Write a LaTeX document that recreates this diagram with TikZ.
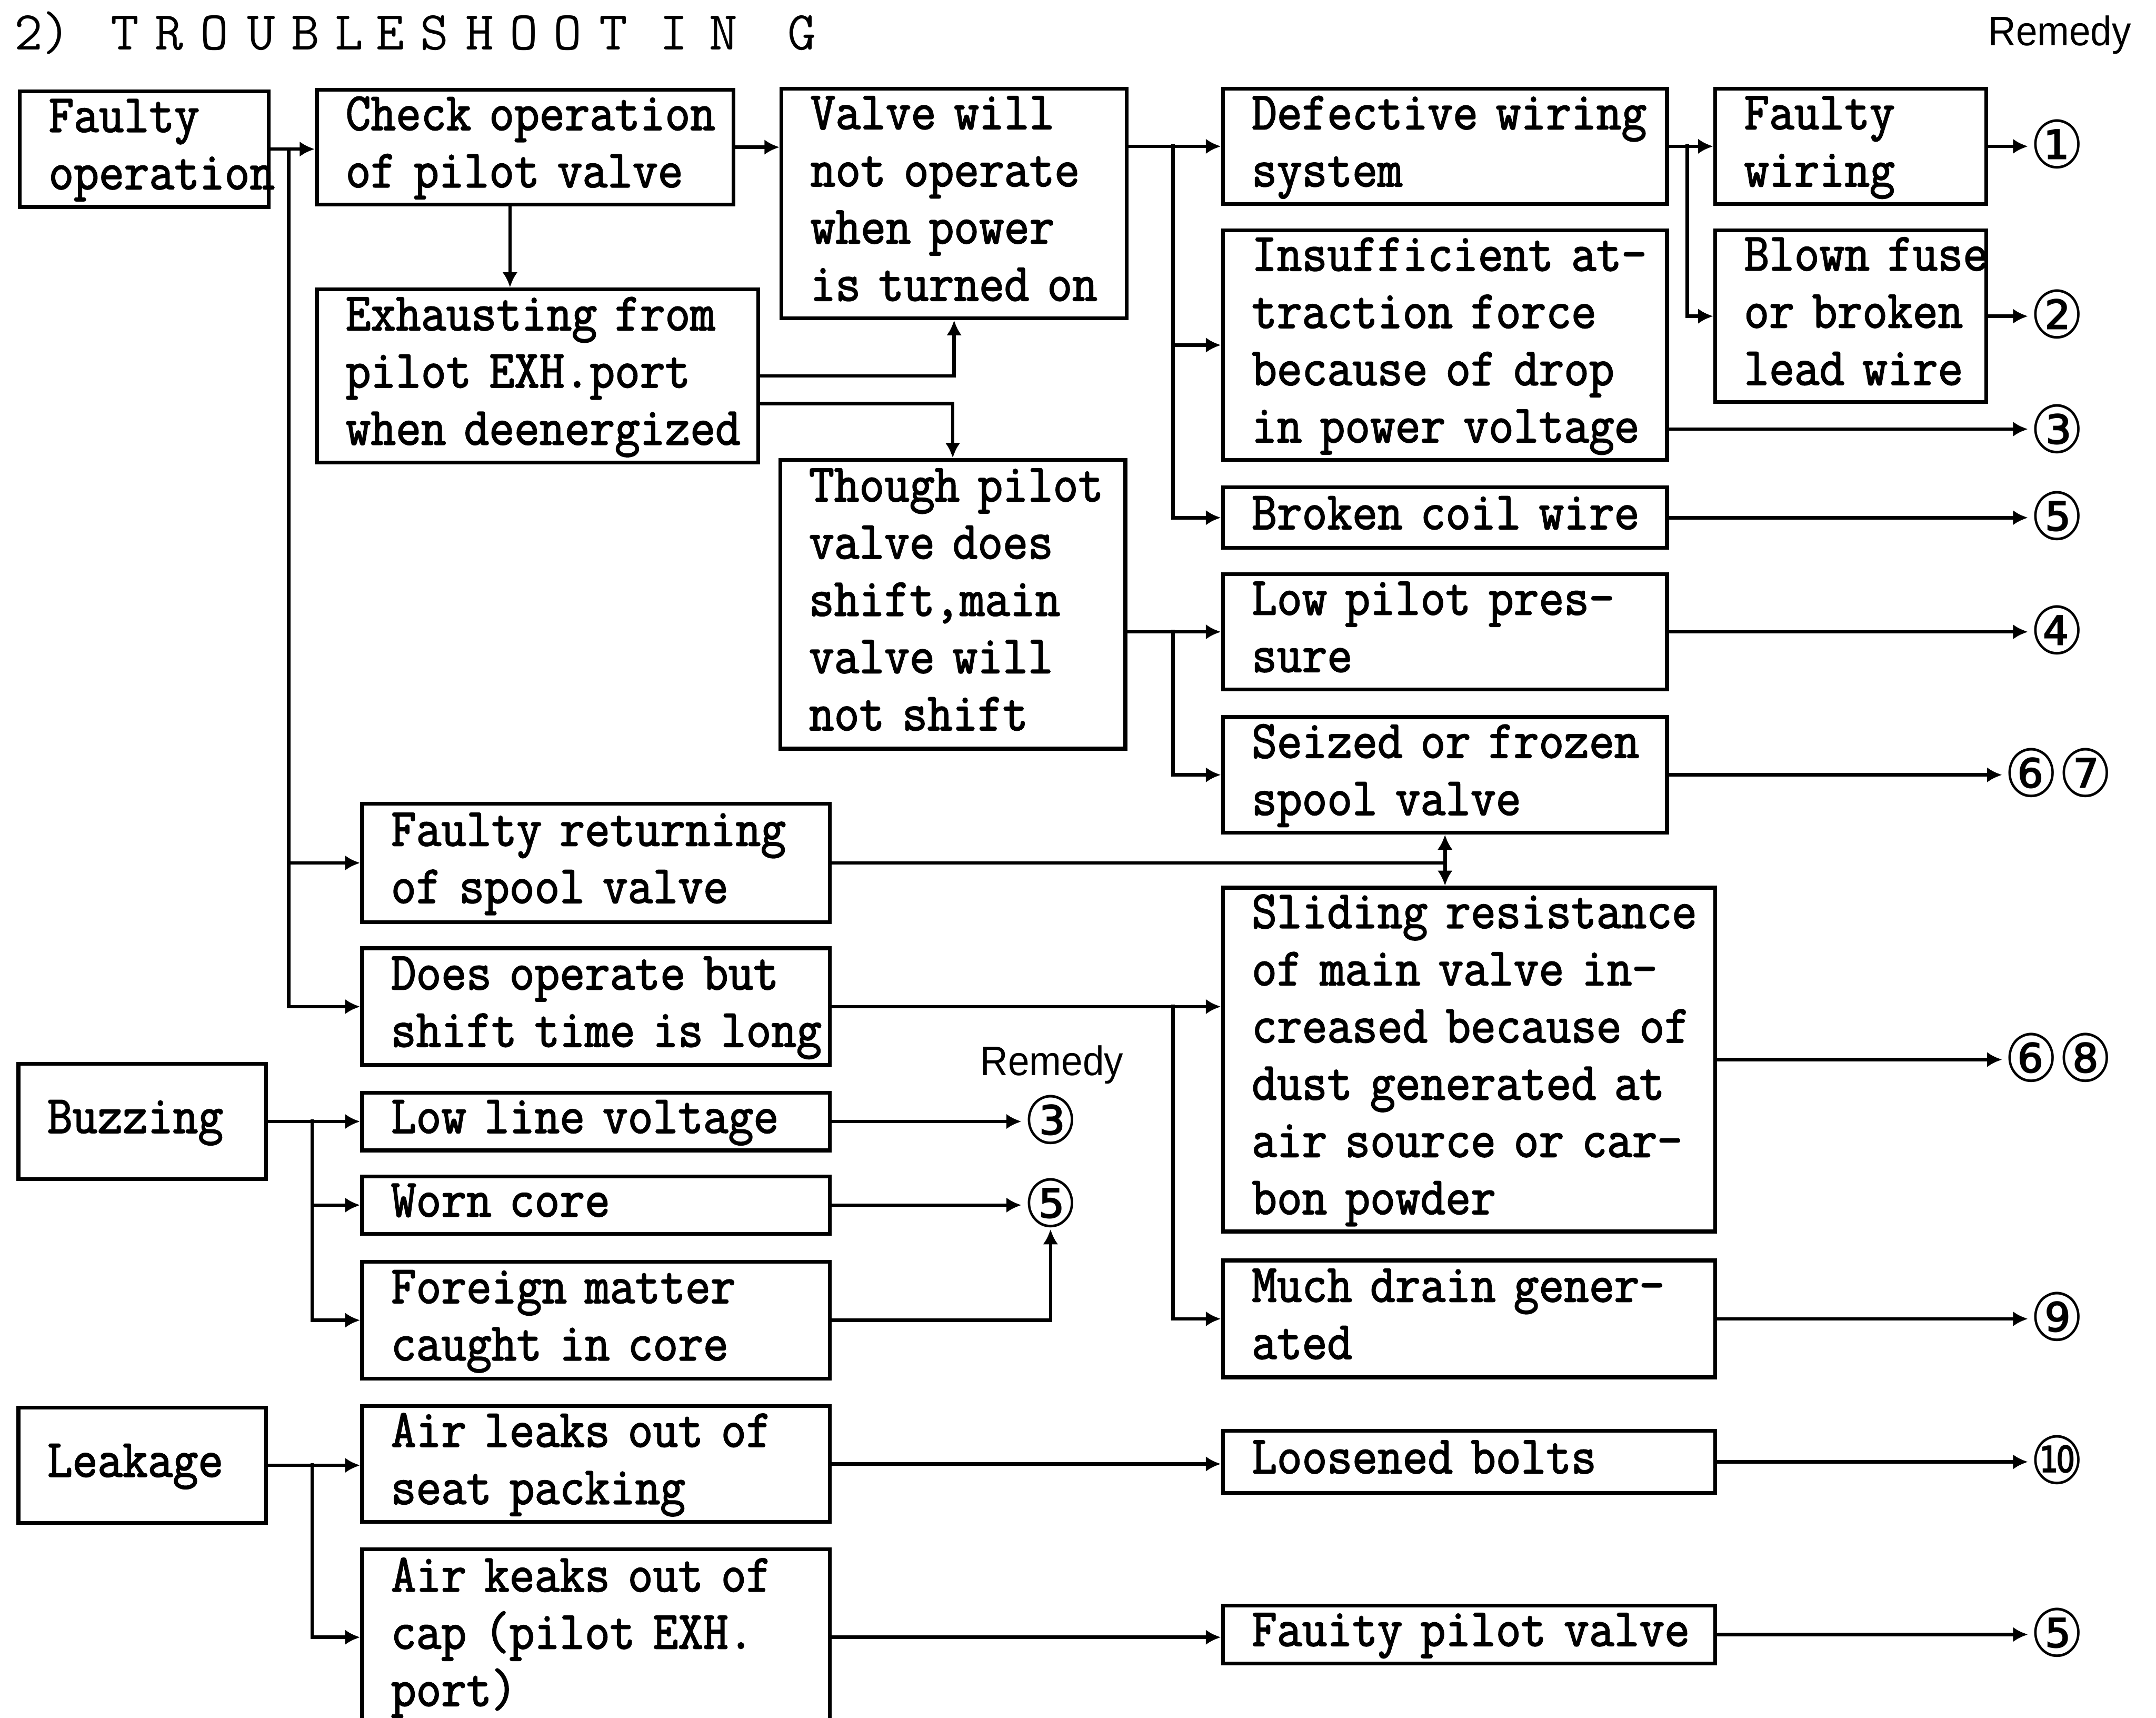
\documentclass[tikz,border=0pt]{standalone}
\usepackage{fontspec}
\usetikzlibrary{arrows.meta}
\newfontfamily\boxfont[FakeStretch=0.91,FakeBold=2]{Latin Modern Mono}
\newfontfamily\remfont[FakeStretch=0.93]{Liberation Sans}
\newfontfamily\circfont[FakeStretch=0.92]{DejaVu Sans}
\newcommand{\boxtext}[1]{\begin{tabular}{@{}l@{}}#1\end{tabular}}

\begin{document}
\begin{tikzpicture}[x=1pt,y=-1pt,line width=2.5pt,>={Latex[length=11pt,width=11pt]},
  cause/.style 2 args={draw,line width=2.8pt,anchor=north west,text width=#1,minimum height=#2,
    inner xsep=21pt,inner ysep=0pt,font=\boxfont\fontsize{39}{41.6}\selectfont},
  remedy/.style={inner sep=0pt,font=\circfont\fontsize{48}{48}\selectfont},
  ttl/.style={anchor=base,inner sep=0pt,font=\ttfamily\fontsize{40}{40}\selectfont},
  remlabel/.style={anchor=base,inner sep=0pt,font=\remfont\fontsize{30}{30}\selectfont}]
\useasboundingbox (0,0) rectangle (1568,1249);
%%%%%%%%%%%%%%%%%%%% heading %%%%%%%%%%%%%%%%%%%%
\node[ttl] (ttl0) at (31,36) {2)};
\foreach \ch/\xx [count=\i] in {T/91,R/123,O/156,U/190,B/222,L/254,E/284,S/316,H/349,O/381,O/413,T/446,I/490,N/526,G/583}
  \node[ttl] (ttl\i) at (\xx,36) {\ch};
\node[remlabel] (remtop) at (1498,33) {Remedy};
\node[remlabel] (remmid) at (765,782) {Remedy};
%%%%%%%%%%%%%%%%%%%% faulty operation %%%%%%%%%%%%%%%%%%%%
\node[cause={139pt}{84pt}] (fo) at (13,65) {\boxtext{Faulty\\operation}};
\node[cause={261pt}{83pt}] (chk) at (229,64) {\boxtext{Check operation\\of pilot valve}};
\node[cause={209pt}{167pt}] (vlv) at (567,63) {\boxtext{Valve will\\not operate\\when power\\is turned on}};
\node[cause={279pt}{126pt}] (exh) at (229,209) {\boxtext{Exhausting from\\pilot EXH.port\\when deenergized}};
\node[cause={209pt}{210pt}] (tho) at (566,333) {\boxtext{Though pilot\\valve does\\shift,main\\valve will\\not shift}};
\node[cause={298pt}{86pt}] (frt) at (262,583) {\boxtext{Faulty returning\\of spool valve}};
\node[cause={298pt}{85pt}] (doe) at (262,688) {\boxtext{Does operate but\\shift time is long}};
\node[cause={281pt}{84pt}] (def) at (888,63) {\boxtext{Defective wiring\\system}};
\node[cause={281pt}{167pt}] (ins) at (888,166) {\boxtext{Insufficient at-\\traction force\\because of drop\\in power voltage}};
\node[cause={281pt}{44pt}] (brk) at (888,353) {\boxtext{Broken coil wire}};
\node[cause={281pt}{84pt}] (lpp) at (888,416) {\boxtext{Low pilot pres-\\sure}};
\node[cause={281pt}{84pt}] (szd) at (888,520) {\boxtext{Seized or frozen\\spool valve}};
\node[cause={316pt}{250pt}] (sld) at (888,644) {\boxtext{Sliding resistance\\of main valve in-\\creased because of\\dust generated at\\air source or car-\\bon powder}};
\node[cause={316pt}{85pt}] (mdr) at (888,915) {\boxtext{Much drain gener-\\ated}};
\node[cause={155pt}{84pt}] (fwr) at (1246,63) {\boxtext{Faulty\\wiring}};
\node[cause={155pt}{125pt}] (bfs) at (1246,166) {\boxtext{Blown fuse\\or broken\\lead wire}};
%%%%%%%%%%%%%%%%%%%% buzzing %%%%%%%%%%%%%%%%%%%%
\node[cause={138pt}{84pt}] (buz) at (12,772) {\boxtext{Buzzing}};
\node[cause={298pt}{42pt}] (llv) at (262,793) {\boxtext{Low line voltage}};
\node[cause={298pt}{41pt}] (wrn) at (262,854) {\boxtext{Worn core}};
\node[cause={298pt}{85pt}] (frn) at (262,916) {\boxtext{Foreign matter\\caught in core}};
%%%%%%%%%%%%%%%%%%%% leakage %%%%%%%%%%%%%%%%%%%%
\node[cause={138pt}{84pt}] (lkg) at (12,1022) {\boxtext{Leakage}};
\node[cause={298pt}{84pt}] (alk) at (262,1021) {\boxtext{Air leaks out of\\seat packing}};
\node[cause={298pt}{128pt}] (akk) at (262,1125) {\boxtext{Air keaks out of\\cap (pilot EXH.\\port)}};
\node[cause={316pt}{45pt}] (lsb) at (888,1039) {\boxtext{Loosened bolts}};
\node[cause={316pt}{42pt}] (fpv) at (888,1166) {\boxtext{Fauity pilot valve}};
%%%%%%%%%%%%%%%%%%%% remedies %%%%%%%%%%%%%%%%%%%%
\node[remedy] (r1) at (1496,105) {①};
\node[remedy] (r2) at (1496,228.5) {②};
\node[remedy] (r3) at (1496,312) {③};
\node[remedy] (r5a) at (1496,375) {⑤};
\node[remedy] (r4) at (1496,458) {④};
\node[remedy] (r67) at (1497,562) {⑥⑦};
\node[remedy] (r68) at (1497,769) {⑥⑧};
\node[remedy] (r9) at (1496,957.5) {⑨};
\node[remedy] (r10) at (1496,1061.5) {⑩};
\node[remedy] (r5b) at (1496,1187) {⑤};
\node[remedy] (m3) at (764,814) {③};
\node[remedy] (m5) at (764,874.5) {⑤};
%%%%%%%%%%%%%%%%%%%% connectors %%%%%%%%%%%%%%%%%%%%
\coordinate (t1) at (210,107);
\coordinate (t2) at (853,105);
\coordinate (t3) at (1227,105);
\coordinate (t4) at (853,458);
\coordinate (t5) at (853,730.5);
\coordinate (t6) at (227,814);
\coordinate (t7) at (227,1064);
\draw[->] (fo.east) -- (fo.east -| chk.west);
\draw[->] (t1) |- (frt.west);
\draw[->] (t1) |- (doe.west);
\draw[->] (chk.east) -- (chk.east -| vlv.west);
\draw[->] ([xshift=-11pt]chk.south) -- ([xshift=-11pt]chk.south |- exh.north);
\draw[->] (exh.east) -| (vlv.south);
\draw[->] ([yshift=-20pt]exh.east) -| (tho.north);
\draw[->] (vlv.east |- def.west) -- (def.west);
\draw[->] (t2) |- (ins.west);
\draw[->] (t2) |- (brk.west);
\draw[->] (def.east) -- (fwr.west);
\draw[->] (t3) |- (bfs.west);
\draw[->] (tho.east |- lpp.west) -- (lpp.west);
\draw[->] (t4) |- (szd.west);
\draw (frt.east) -- (frt.east -| szd.south);
\draw[<->] (szd.south) -- (szd.south |- sld.north);
\draw[->] (doe.east) -- (doe.east -| sld.west);
\draw[->] (t5) |- (mdr.west);
\draw[->] (buz.east) -- (llv.west);
\draw[->] (t6) |- (wrn.west);
\draw[->] (t6) |- (frn.west);
\draw[->] (lkg.east) -- (lkg.east -| alk.west);
\draw[->] (t7) |- (akk.west);
\draw[->] (alk.east) -- (alk.east -| lsb.west);
\draw[->] (akk.east) -- (akk.east -| fpv.west);
%%%%%%%%%%%%%%%%%%%% to the remedies %%%%%%%%%%%%%%%%%%%%
\draw[->] (fwr.east) -- (fwr.east -| r1.west);
\draw[->] (bfs.east) -- (bfs.east -| r2.west);
\draw[->] (ins.east |- r3.west) -- (r3.west);
\draw[->] (brk.east) -- (brk.east -| r5a.west);
\draw[->] (lpp.east) -- (lpp.east -| r4.west);
\draw[->] (szd.east) -- (szd.east -| r67.west);
\draw[->] (sld.east) -- (sld.east -| r68.west);
\draw[->] (mdr.east) -- (mdr.east -| r9.west);
\draw[->] (lsb.east) -- (lsb.east -| r10.west);
\draw[->] (fpv.east) -- (fpv.east -| r5b.west);
\draw[->] (llv.east) -- (llv.east -| m3.west);
\draw[->] (wrn.east) -- (wrn.east -| m5.west);
\draw[->] (frn.east) -| (m5.south);
\end{tikzpicture}
\end{document}
